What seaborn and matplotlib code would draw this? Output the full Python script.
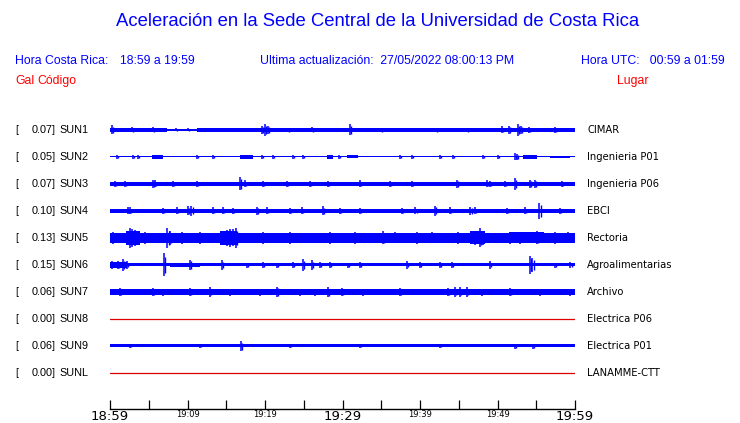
import matplotlib
matplotlib.use("Agg")
import matplotlib.pyplot as plt
import seaborn as sns
import numpy as np
import pandas as pd

# ---------------- data ----------------
stations = ["SUN1", "SUN2", "SUN3", "SUN4", "SUN5", "SUN6", "SUN7", "SUN8", "SUN9", "SUNL"]
peak_gal = [0.07, 0.05, 0.07, 0.10, 0.13, 0.15, 0.06, 0.00, 0.06, 0.00]
places = ["CIMAR", "Ingenieria P01", "Ingenieria P06", "EBCI", "Rectoria",
          "Agroalimentarias", "Archivo", "Electrica P06", "Electrica P01", "LANAMME-CTT"]

# minutes after 18:59 ; amplitudes in trace units (27 units = one row)
base_amp = [0.6, 0.5, 1.9, 2.3, 4.8, 1.5, 2.8, 0.0, 1.5, 0.0]

seg_sun1 = [(0, 7.4, 1.9), (11.2, 50, 1.7), (50, 60, 2.0)]
seg_sun2 = [(5.4, 6.8, 1.8), (16.8, 18.5, 1.8), (28, 28.8, 1.8), (30.6, 32, 1.5),
            (53.3, 55.1, 1.6), (56.8, 59.4, 1.2)]
seg_sun5 = [(2, 3.9, 7), (14.2, 16.4, 7), (46.5, 48.4, 6.5), (51.5, 56, 5.5)]
seg_sun6 = [(0, 2.2, 3.2), (7.7, 11.6, 2.0)]
segments = {"SUN1": seg_sun1, "SUN2": seg_sun2, "SUN5": seg_sun5, "SUN6": seg_sun6}

spk_sun1 = [(0.2, 4.5), (2.8, 2.5), (5.5, 2.5), (8.5, 1.5), (10, 1.5), (19.6, 4), (20.0, 6.0),
            (20.4, 4), (23, 2.2), (26, 2.5), (31.0, 5.5), (35, 2.3), (38, 2), (42, 2.2),
            (46, 2.3), (50.6, 3.5), (51.5, 4), (52.6, 6), (53, 4), (54, 3), (57.4, 3)]
spk_sun2 = [(0.9, 2), (3, 1.8), (3.6, 1.8), (11.2, 1.8), (13.3, 1.8), (19.6, 2), (21, 1.8),
            (23.6, 1.8), (24.9, 2), (29.5, 1.8), (37.4, 2), (39, 1.8), (42.6, 2), (44.3, 1.8),
            (48.1, 1.8), (50, 2), (52.3, 3.5), (52.5, 3)]
spk_sun3 = [(0.6, 3), (1.9, 3), (5.5, 4), (5.8, 3.5), (8.1, 3), (11.2, 3), (16.8, 6.5),
            (17.4, 3.5), (19.7, 3), (22.8, 3), (25.8, 3), (28.1, 3), (32.3, 3.5), (36.1, 3),
            (39, 3), (44.8, 4), (48.6, 3.5), (49, 3), (51, 3), (52.3, 6), (54.2, 4),
            (54.8, 4), (58.3, 3)]
spk_sun4 = [(2.3, 3.5), (2.6, 3.5), (6.8, 3), (8.6, 3.5), (10.1, 4.5), (10.5, 5), (13.3, 3.5),
            (14.6, 3.5), (15.9, 3), (19, 4), (20.3, 3.5), (23.2, 3), (24.8, 3.5), (27.5, 4.5),
            (29.7, 3), (32.3, 3), (37.7, 3), (39.4, 3.5), (41.9, 5), (43.9, 3.5), (46.5, 4),
            (47.1, 3.5), (51.2, 3), (53.5, 3.5), (55.4, 8), (58.1, 3)]
spk_sun5 = [(0.4, 6), (2.6, 10), (2.8, 9), (3.2, 8), (4.5, 6), (7.4, 10), (7.7, 7), (9.3, 6),
            (11.6, 6), (15.1, 8), (15.5, 9), (15.9, 8.5), (16.3, 10), (19.7, 6), (23.2, 6),
            (28.4, 6), (31.6, 6), (35.2, 6.5), (36.8, 5.5), (39.6, 6), (41.5, 5.5), (44.9, 6),
            (47.1, 7), (47.7, 9.5), (48.1, 7), (51.6, 6), (52.9, 6), (55.1, 6.5), (57.4, 6),
            (59.1, 5.5)]
spk_sun6 = [(0.3, 3.5), (1, 4), (1.7, 6), (2.2, 3.5), (7, 11.5), (10.3, 5.5), (14.4, 4.5),
            (17.7, 2.5), (19.7, 3), (21.5, 2.5), (23.6, 3), (24.9, 6), (26.1, 4.5), (27.1, 3),
            (28.4, 3), (30.7, 2.5), (32.3, 3), (38.3, 3.5), (40, 3), (42.6, 3), (44.1, 3),
            (49, 3.5), (54.2, 9), (54.5, 7), (57.4, 2.5), (59.4, 3)]
spk_sun7 = [(1.3, 3.8), (5.5, 4), (6.8, 3.5), (10.3, 4), (12.9, 4.5), (15.5, 3.5), (19.4, 3.5),
            (21.5, 5.5), (24.5, 3.5), (26.5, 3.5), (28.1, 5), (29.9, 4), (32.6, 3.5), (37.4, 4),
            (43.6, 4), (44.5, 4.5), (45.2, 4.5), (46.1, 4.5), (48, 3.5), (51.6, 4), (55.5, 3.5),
            (59.4, 3.5)]
spk_sun9 = [(2.6, 2), (11.6, 2), (16.9, 5), (23.2, 2), (32.3, 2), (42.6, 2), (52.3, 2.5),
            (54.6, 2.5)]
spikes = {"SUN1": spk_sun1, "SUN2": spk_sun2, "SUN3": spk_sun3, "SUN4": spk_sun4,
          "SUN5": spk_sun5, "SUN6": spk_sun6, "SUN7": spk_sun7, "SUN9": spk_sun9}

tick_minutes = [0, 5, 10, 15, 20, 25, 30, 35, 40, 45, 50, 55, 60]
big_labels = {0: "18:59", 30: "19:29", 60: "19:59"}
small_labels = {10: "19:09", 20: "19:19", 40: "19:39", 50: "19:49"}

# ---------------- figure ----------------
sns.set_style("white")
plt.rcParams["font.family"] = ["Liberation Sans", "DejaVu Sans"]

W, H = 740, 423
fig = plt.figure(figsize=(W / 100, H / 100), dpi=100)
fig.patch.set_facecolor("white")

def fx(px):
    return px / W

def fy(py):
    return 1 - py / H

ax_top, ax_bot = 110, 409
ax = fig.add_axes([fx(110), fy(ax_bot), (575 - 110) / W, (ax_bot - ax_top) / H])
ax.set_xlim(0, 60)
row0, row_step = 130, 27
ax.set_ylim((ax_bot - row0) / row_step, (ax_top - row0) / row_step)
unit = 1 / row_step

blue = "#0000ff"
dead = "#dd0000"

for i, st in enumerate(stations):
    b = base_amp[i]
    if b == 0:
        df = pd.DataFrame({"t": [0, 60], "y": [i, i]})
        sns.lineplot(data=df, x="t", y="y", ax=ax, color=dead, lw=0.9)
        continue
    ax.fill_between([0, 60], i - b * unit, i + b * unit, color=blue, lw=0)
    for (s, e, a) in segments.get(st, []):
        ax.fill_between([s, e], i - a * unit, i + a * unit, color=blue, lw=0)
    sp = spikes.get(st, [])
    if sp:
        t = np.array([p[0] for p in sp])
        a = np.array([p[1] for p in sp])
        ax.vlines(t, i - a * unit, i + a * unit, color=blue, lw=1.1)
        ax.vlines(t + 0.15, i - a * 0.7 * unit, i + a * 0.7 * unit, color=blue, lw=1.0)

for sp_name in ["top", "left", "right"]:
    ax.spines[sp_name].set_visible(False)
ax.spines["bottom"].set_color("black")
ax.spines["bottom"].set_linewidth(1.0)
ax.set_yticks([])
ax.set_xticks(tick_minutes)
ax.set_xticklabels([])
ax.tick_params(axis="x", direction="in", length=6.5, width=0.9, color="black", bottom=True)
ax.set_xlabel("")
ax.set_ylabel("")
ax.patch.set_alpha(0)

for m, lab in big_labels.items():
    fig.text(fx(110 + m * 7.75), fy(416), lab, ha="center", va="center",
             fontsize=9.5, family="DejaVu Sans", color="black")
for m, lab in small_labels.items():
    fig.text(fx(110 + m * 7.75), fy(414), lab, ha="center", va="center",
             fontsize=6, family="DejaVu Sans", color="black")

# header texts
fig.text(fx(378), fy(22), "Aceleración en la Sede Central de la Universidad de Costa Rica",
         ha="center", va="center", fontsize=13.3, color=blue)
fig.text(fx(15), fy(61), "Hora Costa Rica:", ha="left", va="center",
         fontsize=8.8, color=blue)
fig.text(fx(120), fy(61), "18:59 a 19:59", ha="left", va="center",
         fontsize=8.8, color=blue)
fig.text(fx(260), fy(61), "Ultima actualización:  27/05/2022 08:00:13 PM", ha="left",
         va="center", fontsize=8.8, color=blue)
fig.text(fx(725), fy(61), "Hora UTC:   00:59 a 01:59", ha="right", va="center",
         fontsize=8.8, color=blue)
fig.text(fx(15), fy(81), "Gal", ha="left", va="center", fontsize=8.8, color="#ff0000")
fig.text(fx(37), fy(81), "Código", ha="left", va="center", fontsize=8.8, color="#ff0000")
fig.text(fx(649), fy(81), "Lugar", ha="right", va="center", fontsize=8.8, color="#ff0000")

for i, st in enumerate(stations):
    y = row0 + i * row_step
    fig.text(fx(15), fy(y), "[", ha="left", va="center", fontsize=7.8, color="black")
    fig.text(fx(56), fy(y), f"{peak_gal[i]:.2f}]", ha="right", va="center",
             fontsize=7.8, color="black")
    fig.text(fx(59), fy(y), st, ha="left", va="center", fontsize=7.8, color="black")
    fig.text(fx(587), fy(y), places[i], ha="left", va="center", fontsize=7.2,
             family="DejaVu Sans", color="black")

fig.savefig("out.png", dpi=100, facecolor="white")
